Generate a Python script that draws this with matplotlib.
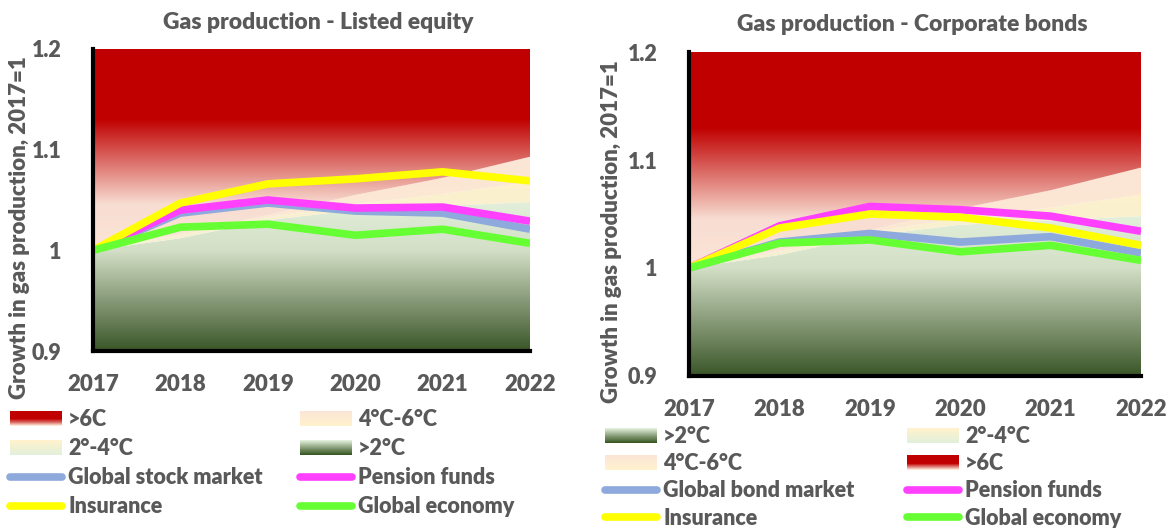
import numpy as np
import matplotlib
matplotlib.use('Agg')
import matplotlib.pyplot as plt
from matplotlib.colors import LinearSegmentedColormap
from matplotlib.patches import Polygon, Rectangle, Patch
from matplotlib.lines import Line2D
from matplotlib.legend_handler import HandlerBase

plt.rcParams['font.family'] = ['Lato', 'DejaVu Sans']
plt.rcParams['font.weight'] = 'heavy'
GREY = '#595959'
FS = 15.5

years = [2017, 2018, 2019, 2020, 2021, 2022]
# upper edges of the temperature scenario bands
band_2c = [1.0, 1.012, 1.030, 1.040, 1.044, 1.048]
band_4c = [1.0, 1.015, 1.033, 1.046, 1.056, 1.068]
band_6c = [1.0, 1.017, 1.035, 1.055, 1.072, 1.093]

# listed equity
eq_market = [1.0, 1.037, 1.047, 1.039, 1.037, 1.021]
eq_pension = [1.0, 1.040, 1.050, 1.042, 1.043, 1.029]
eq_insurance = [1.0, 1.047, 1.066, 1.071, 1.078, 1.069]
# corporate bonds
bd_market = [1.0, 1.024, 1.032, 1.024, 1.029, 1.014]
bd_pension = [1.0, 1.039, 1.057, 1.054, 1.048, 1.034]
bd_insurance = [1.0, 1.037, 1.050, 1.047, 1.037, 1.021]
global_economy = [1.0, 1.023, 1.026, 1.015, 1.021, 1.007]

C_MARKET, C_PENSION, C_INS, C_ECON = '#8EA9DB', '#FF40FF', '#FFFF00', '#66FF33'

# gradient stops, bottom -> top
grad_2c = [(0, '#3A5628'), (0.338, '#879A78'), (0.676, '#D3DFC6'), (1, '#E2EFDA')]
grad_24 = [(0, '#F4F1D4'), (1, '#FDF0CD')]
grad_46 = [(0, '#FCEBD2'), (1, '#FBE5D6')]
grad_6c = [(0, '#FBE5D6'), (0.225, '#F8DDD2'), (0.65, '#C00000'), (1, '#C00000')]

leg_6c = [(0, '#FBE5D6'), (0.45, '#C00000'), (1, '#C00000')]
leg_46 = [(0, '#FFF2CC'), (1, '#FBE5D6')]
leg_24 = [(0, '#E2EFDA'), (1, '#FFF2CC')]
leg_2c = [(0, '#385723'), (1, '#E2EFDA')]


class GradientHandler(HandlerBase):
    def __init__(self, stops, n=28):
        super().__init__()
        self.cmap = LinearSegmentedColormap.from_list('lg', stops)
        self.n = n

    def create_artists(self, legend, orig_handle, xdescent, ydescent, width, height, fontsize, trans):
        step = height / self.n
        arts = []
        for i in range(self.n):
            arts.append(Rectangle((-xdescent, -ydescent + i * step), width, step * 1.1,
                                  facecolor=self.cmap(i / (self.n - 1)), edgecolor='none',
                                  transform=trans))
        return arts


def grad_fill(ax, lo, hi, stops):
    ylo, yhi = min(lo), max(hi)
    cmap = LinearSegmentedColormap.from_list('g', stops)
    img = np.linspace(0, 1, 400).reshape(-1, 1)
    im = ax.imshow(img, cmap=cmap, aspect='auto', origin='lower', interpolation='bilinear',
                   extent=[years[0], years[-1], ylo, yhi], zorder=1)
    verts = list(zip(years, lo)) + list(zip(years[::-1], hi[::-1]))
    poly = Polygon(verts, closed=True, facecolor='none', edgecolor='none')
    ax.add_patch(poly)
    im.set_clip_path(poly)


def draw_panel(ax, market, pension, insurance):
    bottom = [0.9] * len(years)
    top = [1.2] * len(years)
    grad_fill(ax, bottom, band_2c, grad_2c)
    grad_fill(ax, band_2c, band_4c, grad_24)
    grad_fill(ax, band_4c, band_6c, grad_46)
    grad_fill(ax, band_6c, top, grad_6c)
    for vals, c in [(market, C_MARKET), (pension, C_PENSION), (insurance, C_INS), (global_economy, C_ECON)]:
        ax.plot(years, vals, color=c, lw=5.5, solid_joinstyle='round', solid_capstyle='butt', zorder=3)
    ax.set_xlim(2017, 2022)
    ax.set_ylim(0.9, 1.2)
    ax.set_xticks(years)
    ax.set_yticks([0.9, 1.0, 1.1, 1.2])
    ax.set_yticklabels(['0.9', '1', '1.1', '1.2'])
    ax.tick_params(axis='x', length=0, pad=16.5, labelsize=16, labelcolor=GREY)
    ax.tick_params(axis='y', length=0, pad=22.5, labelsize=FS, labelcolor=GREY)
    for s in ['top', 'right']:
        ax.spines[s].set_visible(False)
    for s in ['left', 'bottom']:
        ax.spines[s].set_linewidth(3)
        ax.spines[s].set_color('black')
        ax.spines[s].set_zorder(4)


fig = plt.figure(figsize=(11.76, 5.28), dpi=100)
ax1 = fig.add_axes([0.0791, 0.3352, 0.3716, 0.5720])
ax2 = fig.add_axes([0.5859, 0.2879, 0.3844, 0.6136])

draw_panel(ax1, eq_market, eq_pension, eq_insurance)
draw_panel(ax2, bd_market, bd_pension, bd_insurance)

fig.text(0.2704, 0.958, 'Gas production - Listed equity', ha='center', va='center', fontsize=16.5, color=GREY)
fig.text(0.7755, 0.953, 'Gas production - Corporate bonds', ha='center', va='center', fontsize=16.5, color=GREY)
fig.text(20 / 1176, 1 - 228 / 528, 'Growth in gas production, 2017=1', rotation=90,
         ha='center', va='center', fontsize=16, color=GREY)
fig.text(611 / 1176, 1 - 232 / 528, 'Growth in gas production, 2017=1', rotation=90,
         ha='center', va='center', fontsize=16, color=GREY)

h6 = Patch(label='>6C')
h46 = Patch(label='4°C-6°C')
h24 = Patch(label='2°-4°C')
h2 = Patch(label='>2°C')
hmap = {h6: GradientHandler(leg_6c), h46: GradientHandler(leg_46),
        h24: GradientHandler(leg_24), h2: GradientHandler(leg_2c)}


def line_handle(c):
    return Line2D([], [], color=c, lw=5.5, solid_capstyle='round')


def column_legend(handles, labels, x, y, spacing):
    leg = fig.legend(handles, labels, loc='upper left', bbox_to_anchor=(x / 1176, 1 - y / 528),
                     frameon=False, fontsize=FS, handler_map=hmap, handlelength=2.42,
                     handleheight=0.65, handletextpad=0.28, labelspacing=spacing,
                     borderpad=0, borderaxespad=0)
    for t in leg.get_texts():
        t.set_color(GREY)
    return leg


column_legend([h6, h24, line_handle(C_MARKET), line_handle(C_INS)],
              ['>6C', '2°-4°C', 'Global stock market', 'Insurance'], 10, 409, 0.37)
column_legend([h46, h2, line_handle(C_PENSION), line_handle(C_ECON)],
              ['4°C-6°C', '>2°C', 'Pension funds', 'Global economy'], 300, 409, 0.37)
column_legend([h2, h46, line_handle(C_MARKET), line_handle(C_INS)],
              ['>2°C', '4°C-6°C', 'Global bond market', 'Insurance'], 605, 426, 0.29)
column_legend([h24, h6, line_handle(C_PENSION), line_handle(C_ECON)],
              ['2°-4°C', '>6C', 'Pension funds', 'Global economy'], 907, 426, 0.29)

fig.savefig('out.png', dpi=100)
